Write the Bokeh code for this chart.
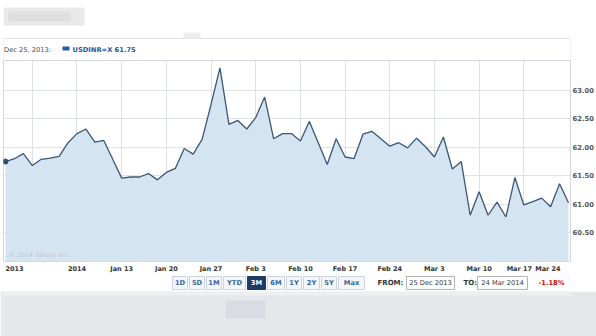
from bokeh.plotting import figure
from bokeh.layouts import column
from bokeh.models import (ColumnDataSource, FixedTicker, NumeralTickFormatter, Range1d)
from bokeh.core.properties import value
from bokeh.embed import file_html
from bokeh.resources import INLINE

# ---- data (USD/INR, trading days 25 Dec 2013 .. 24 Mar 2014) ----
day_index = list(range(64))
rate = [61.75, 61.80, 61.89, 61.68, 61.79, 61.81, 61.84, 62.08, 62.24, 62.32,
        62.09, 62.12, 61.79, 61.46, 61.48, 61.48, 61.54, 61.43, 61.56, 61.63,
        61.98, 61.88, 62.14, 62.75, 63.39, 62.40, 62.47, 62.32, 62.52, 62.88,
        62.15, 62.24, 62.24, 62.11, 62.45, 62.08, 61.70, 62.15, 61.83, 61.80,
        62.23, 62.28, 62.15, 62.02, 62.08, 61.99, 62.16, 62.01, 61.83, 62.18,
        61.62, 61.75, 60.81, 61.22, 60.81, 61.04, 60.78, 61.47, 60.99, 61.05,
        61.11, 60.96, 61.36, 61.03]
tick_days = [1, 8, 13, 18, 23, 28, 33, 38, 43, 48, 53, 57.5, 60.7]
tick_labels = ["2013", "2014", "Jan 13", "Jan 20", "Jan 27", "Feb 3", "Feb 10",
               "Feb 17", "Feb 24", "Mar 3", "Mar 10", "Mar 17", "Mar 24"]
week_starts = [3, 8, 13, 18, 23, 28, 33, 38, 43, 48, 53, 58]
y_ticks = [60.5, 61.0, 61.5, 62.0, 62.5, 63.0]
buttons = ["1D", "5D", "1M", "YTD", "3M", "6M", "1Y", "2Y", "5Y", "Max"]
header_date = "Dec 25, 2013:"
header_quote = "USDINR=X 61.75"
from_date, to_date, change = "25 Dec 2013", "24 Mar 2014", "-1.18%"

FONT = "DejaVu Sans"
Y0 = 60.0
W = 596
FL, FR = 3, 570          # frame left / right on the canvas (aligned across the column)


def deco_fig(top, bottom, bg="white"):
    # pixel-coordinate strip; its frame is aligned with the chart frame (FL..FR)
    f = figure(width=W, height=bottom - top, output_backend="svg", toolbar_location=None,
               x_range=Range1d(FL, FR), y_range=Range1d(bottom, top),
               min_border_left=0, min_border_right=0,
               min_border_top=0, min_border_bottom=0)
    f.axis.visible = False
    f.grid.visible = False
    f.outline_line_color = None
    f.background_fill_color = bg
    f.border_fill_color = bg
    return f


def txt(f, x, y, text, color="#333333", size="6.7px", style="normal", align="left"):
    f.text(x=[x], y=[y], text=[text], text_font=value(FONT), text_font_size=size,
           text_font_style=style, text_color=color, text_align=align,
           text_baseline="middle")


# ---------------- header strip (canvas y 0..60) ----------------
top = deco_fig(0, 60)
top.quad(left=[FL], right=[84], top=[7], bottom=[25], fill_color="#e9e9e9", line_color=None)
top.quad(left=[8], right=[70], top=[11], bottom=[21], fill_color="#dfdfdf", line_color=None)
top.quad(left=[183], right=[200], top=[32], bottom=[42], fill_color="#eeeeee", line_color=None)
top.quad(left=[FL], right=[FR], top=[38], bottom=[61], fill_color="white",
         line_color="#e2e4e7", line_width=1)
txt(top, 3.5, 49, header_date, color="#4a4a4a")
top.quad(left=[62], right=[69], top=[46], bottom=[50], fill_color="#2a5aa0", line_color=None)
txt(top, 72, 49, header_quote, color="#24569b", style="bold")

# ---------------- main chart (canvas y 60..275) ----------------
src = ColumnDataSource(dict(x=day_index, y=rate, base=[Y0] * len(rate)))

p = figure(width=W, height=215, output_backend="svg", toolbar_location=None,
           x_range=Range1d(-0.224, 63.224), y_range=Range1d(Y0, 63.52),
           y_axis_location="right",
           min_border_left=FL, min_border_right=W - FR, min_border_top=0, min_border_bottom=13)
p.background_fill_color = "white"
p.border_fill_color = "white"
p.outline_line_color = "#d3d6da"

p.varea(x="x", y1="base", y2="y", source=src, fill_color="#d5e4f1")
p.line(x="x", y="y", source=src, line_color="#3c5675", line_width=1.3)
p.scatter(x=[day_index[0]], y=[rate[0]], size=5, color="#2f4a6a")
p.text(x=[0.35], y=[60.13], text=["\u00a9 2014 Yahoo! Inc."], text_font=value(FONT),
       text_font_size="6.3px", text_color="#b9c6d2", text_baseline="middle")

p.xgrid.ticker = FixedTicker(ticks=week_starts)
p.ygrid.ticker = FixedTicker(ticks=y_ticks)
p.xgrid.grid_line_color = "#dfe3e8"
p.ygrid.grid_line_color = "#dfe3e8"

xa = p.xaxis[0]
xa.ticker = FixedTicker(ticks=tick_days)
xa.major_label_overrides = {t: l for t, l in zip(tick_days, tick_labels)}
ya = p.yaxis[0]
ya.ticker = FixedTicker(ticks=y_ticks)
ya.formatter = NumeralTickFormatter(format="0.00")
for ax in (xa, ya):
    ax.axis_line_color = None
    ax.major_tick_line_color = None
    ax.minor_tick_line_color = None
    ax.major_tick_out = 0
    ax.major_tick_in = 0
    ax.minor_tick_out = 0
    ax.major_label_text_font = FONT
    ax.major_label_text_font_style = "bold"
xa.major_label_text_font_size = "6.5px"
xa.major_label_text_color = "#333333"
xa.major_label_standoff = 3
ya.major_label_text_font_size = "6.8px"
ya.major_label_text_color = "#555555"
ya.major_label_standoff = 2

# ---------------- controls strip (canvas y 275..291) ----------------
ctl = deco_fig(275, 291)
btn_x = [(172, 187), (189, 204), (206, 221), (223, 245), (247, 265),
         (267, 284), (286, 301), (303, 319), (321, 336), (338, 364)]
for name, (l, r) in zip(buttons, btn_x):
    sel = name == "3M"
    ctl.quad(left=[l], right=[r], top=[276], bottom=[289],
             fill_color="#1c3b66" if sel else "#f4f6f9",
             line_color="#1c3b66" if sel else "#cbd4de", line_width=1)
    txt(ctl, (l + r) / 2, 282.5, name, color="white" if sel else "#34659a",
        style="bold", align="center")

txt(ctl, 377, 282.5, "FROM:", color="#333333", style="bold", size="7px")
ctl.quad(left=[406], right=[454], top=[276], bottom=[289], fill_color="white",
         line_color="#b4b4b4")
txt(ctl, 430, 282.5, from_date, color="#333333", align="center")
txt(ctl, 463, 282.5, "TO:", color="#333333", style="bold", size="7px")
ctl.quad(left=[477], right=[527], top=[276], bottom=[289], fill_color="white",
         line_color="#b4b4b4")
txt(ctl, 502, 282.5, to_date, color="#333333", align="center")
txt(ctl, 538, 282.5, change, color="#d40000", style="bold")

# ---------------- blurred page band (canvas y 291..336) ----------------
band = deco_fig(291, 336, bg="#e5e7ea")
band.quad(left=[FL], right=[FR], top=[291], bottom=[295], fill_color="#eeeff1", line_color=None)
band.quad(left=[225], right=[265], top=[300], bottom=[318], fill_color="#d9dde3", line_color=None)

layout = column(top, p, ctl, band, spacing=0)
open("out.html", "w").write(file_html(layout, INLINE))
